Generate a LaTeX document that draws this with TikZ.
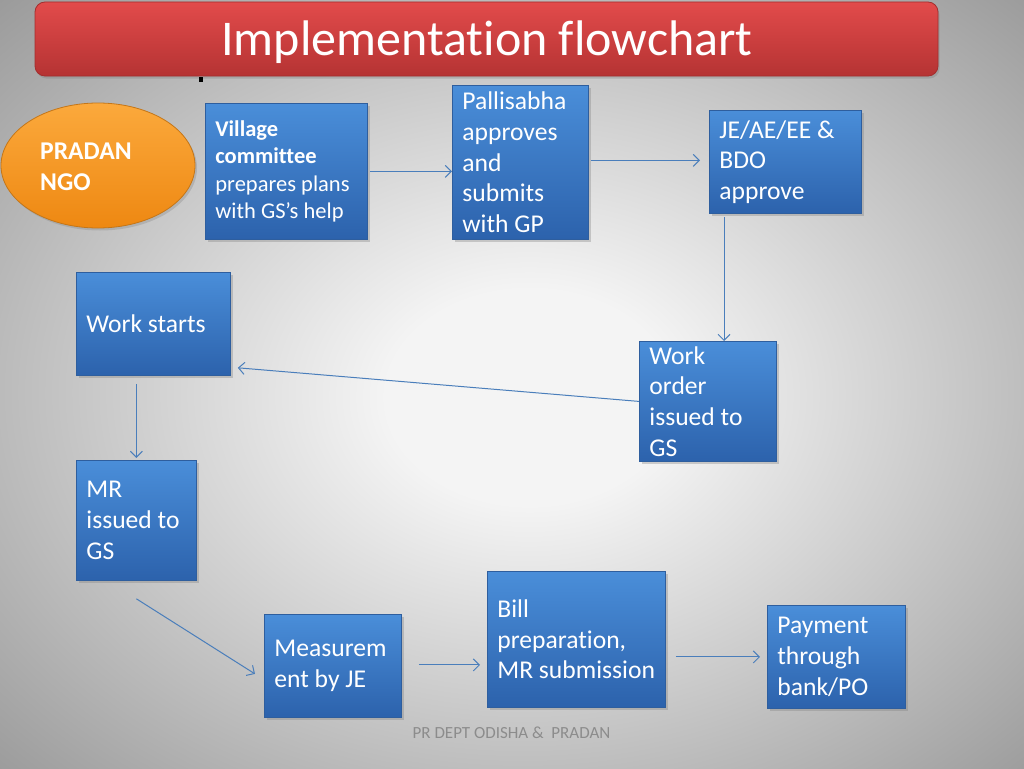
\documentclass[tikz,border=0pt]{standalone}
\usepackage{fontspec}
\setmainfont[Ligatures=NoCommon,RawFeature={-liga;-clig;-calt;-dlig}]{Carlito}
\usetikzlibrary{shadows,arrows.meta,shapes.geometric}
\definecolor{bgin}{HTML}{F4F4F4}
\definecolor{bgout}{HTML}{8E8E8E}
\definecolor{titletop}{HTML}{E24B4B}
\definecolor{titlebot}{HTML}{B53333}
\definecolor{titleline}{HTML}{A32E2E}
\definecolor{boxtop}{HTML}{4A8ED9}
\definecolor{boxbot}{HTML}{2C62AC}
\definecolor{boxline}{HTML}{2E5E9E}
\definecolor{ngotop}{HTML}{FBA93C}
\definecolor{ngobot}{HTML}{EE8812}
\definecolor{ngoline}{HTML}{C47618}
\definecolor{arrowc}{HTML}{4A7EBB}
\definecolor{footgray}{HTML}{8C8C8C}
\pgfdeclareradialshading{bgshade}{\pgfpoint{1bp}{-1bp}}{color(0bp)=(bgin); color(7bp)=(bgin); color(40bp)=(bgout); color(50bp)=(bgout)}
\tikzset{
  flowbox/.style={draw=boxline, line width=0.8pt, top color=boxtop, bottom color=boxbot,
    drop shadow={shadow xshift=2.5pt, shadow yshift=-2.5pt, opacity=0.35},
    inner xsep=10pt, inner ysep=0pt, align=flush left, text=white, anchor=north west,
    font=\fontsize{25.6}{30.7}\selectfont},
  arr/.style={draw=arrowc, line width=1pt, -{Straight Barb[length=6pt,width=12pt]}},
}
\begin{document}
\begin{tikzpicture}[x=1pt,y=-1pt]
\useasboundingbox (0,0) rectangle (1024,768);
\shade[shading=bgshade] (0,0) rectangle (1024,768);
% title
\node[draw=titleline, line width=0.8pt, top color=titletop, bottom color=titlebot,
  rounded corners=10pt, minimum width=903pt, minimum height=74pt,
  drop shadow={shadow xshift=1.5pt, shadow yshift=-2.5pt, opacity=0.35}] (title) at (486.5,39) {};
\node[text=white, inner sep=0pt, font=\fontsize{50}{50}\selectfont] (titletext) at (487,42)
  {Implementation flowchart};
\fill[black] (199,77) rectangle (203,82);
% NGO
\node[ellipse, draw=ngoline, line width=0.8pt, top color=ngotop, bottom color=ngobot,
  minimum width=194pt, minimum height=125pt,
  drop shadow={shadow xshift=2pt, shadow yshift=-2.5pt, opacity=0.3}] (ngo) at (98,165.5) {};
\node[anchor=west, align=flush left, text=white, inner sep=0pt,
  font=\bfseries\fontsize{25.6}{31}\selectfont] (ngotext) at (40,167) {PRADAN\\NGO};
% boxes
\node[flowbox, minimum width=162pt, minimum height=136pt, text width=142pt,
  font=\fontsize{22.5}{27.3}\selectfont] (vc) at (205,103)
  {\textbf{Village}\\\textbf{committee}\\prepares plans\\with GS’s help};
\node[flowbox, minimum width=136pt, minimum height=154pt, text width=116pt] (pall) at (452,85)
  {Pallisabha\\approves\\and\\submits\\with GP};
\node[flowbox, minimum width=152pt, minimum height=103pt, text width=132pt] (je) at (709,110)
  {JE/AE/EE \&\\BDO\\approve};
\node[flowbox, minimum width=154pt, minimum height=103pt, text width=134pt] (ws) at (76,272)
  {Work starts};
\node[flowbox, minimum width=137pt, minimum height=120pt, text width=117pt] (wo) at (639,341)
  {Work\\order\\issued to\\GS};
\node[flowbox, minimum width=120pt, minimum height=120pt, text width=100pt] (mr) at (76,460)
  {MR\\issued to\\GS};
\node[flowbox, minimum width=137pt, minimum height=103pt, text width=117pt] (meas) at (264,614)
  {Measurem\\ent by JE};
\node[flowbox, minimum width=178pt, minimum height=136pt, text width=158pt] (bill) at (487,571)
  {Bill\\preparation,\\\mbox{MR submission}};
\node[flowbox, minimum width=138pt, minimum height=103pt, text width=118pt] (pay) at (767,605)
  {Payment\\through\\bank/PO};
% connectors
\draw[arr] ([xshift=2pt]vc.east) -- (vc.east -| pall.west);
\draw[arr] ([xshift=2pt,yshift=2pt]pall.east) -- ([xshift=-9pt,yshift=2pt]pall.east -| je.west);
\draw[arr] ([xshift=15pt,yshift=-3pt]je.south west) -- ([xshift=15pt]je.south west |- wo.north);
\draw[arr] (wo.west) -- ([shift={(7pt,8pt)}]ws.south east);
\draw[arr] ([yshift=-8pt]ws.south -| mr.north) -- ([yshift=2pt]mr.north);
\draw[arr] ([yshift=-18pt]mr.south) -- ([shift={(-9pt,-8pt)}]meas.west);
\draw[arr] ([xshift=17pt,yshift=1pt]meas.east) -- ([xshift=-7pt,yshift=1pt]meas.east -| bill.west);
\draw[arr] ([xshift=10pt]pay.west -| bill.east) -- ([xshift=-7pt]pay.west);
% footer
\node[text=footgray, inner sep=0pt, font=\fontsize{17}{18}\selectfont] (foot) at (511.5,733)
  {PR DEPT ODISHA \&\ \ PRADAN};
\end{tikzpicture}
\end{document}
